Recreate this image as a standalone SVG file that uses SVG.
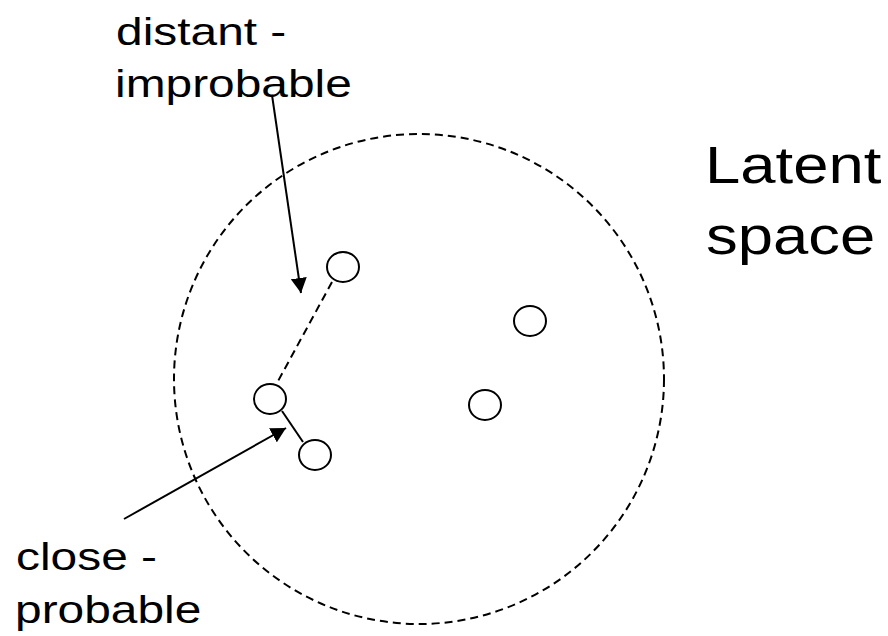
<svg xmlns="http://www.w3.org/2000/svg" width="888" height="636" viewBox="0 0 888 636">
<defs>
<style>
.lbl{font-family:"Liberation Sans",Arial,sans-serif;fill:#000}
.s{font-size:38px}
.b{font-size:52px}
.node{fill:#fff;stroke:#000;stroke-width:2}
.dash{fill:none;stroke:#000;stroke-width:2;stroke-dasharray:8 5}
.solid{fill:none;stroke:#000;stroke-width:2}
</style>
<marker id="ah" markerUnits="userSpaceOnUse" markerWidth="16" markerHeight="16" refX="15" refY="8" orient="auto">
<path d="M0,0 L15,8 L0,16 z" fill="#000"/>
</marker>
</defs>
<rect width="888" height="636" fill="#fff"/>
<g id="latent-space">
<circle class="dash" cx="419" cy="379" r="245"/>
</g>
<g id="connectors">
<line class="dash" x1="332" y1="282" x2="277" y2="383"/>
<line class="solid" x1="282" y1="411" x2="303" y2="442"/>
<line class="solid" x1="272" y1="95" x2="301" y2="293" marker-end="url(#ah)"/>
<line class="solid" x1="124" y1="519" x2="286" y2="428" marker-end="url(#ah)"/>
</g>
<g id="n1"><ellipse class="node" cx="343" cy="267" rx="16" ry="15"/></g>
<g id="n2"><ellipse class="node" cx="270" cy="399" rx="16" ry="15"/></g>
<g id="n3"><ellipse class="node" cx="315" cy="455" rx="16" ry="15"/></g>
<g id="n4"><ellipse class="node" cx="530" cy="321" rx="16" ry="15"/></g>
<g id="n5"><ellipse class="node" cx="485" cy="405" rx="16" ry="15"/></g>
<g id="label-distant">
<text class="lbl s" transform="translate(116,45) scale(1.26,1)">distant -</text>
<text class="lbl s" transform="translate(115,97) scale(1.26,1)">improbable</text>
</g>
<g id="label-close">
<text class="lbl s" transform="translate(16,570) scale(1.26,1)">close -</text>
<text class="lbl s" transform="translate(15,623) scale(1.26,1)">probable</text>
</g>
<g id="label-latent">
<text class="lbl b" transform="translate(705,183) scale(1.22,1)">Latent</text>
<text class="lbl b" transform="translate(706,254) scale(1.22,1)">space</text>
</g>
</svg>
